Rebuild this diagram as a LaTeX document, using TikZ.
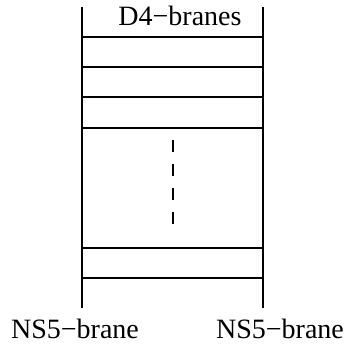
\documentclass[tikz,border=0pt]{standalone}
\usepackage{fontspec}
\setmainfont{Liberation Serif}
\begin{document}
\begin{tikzpicture}[x=1pt,y=-1pt,
  brane/.style={line width=1.8pt},
  lbl/.style={font=\fontsize{28}{31}\selectfont, inner sep=0pt, anchor=base}]
\useasboundingbox (0,0) rectangle (350,343);
\coordinate (Lt) at (82,7);
\coordinate (Lb) at (82,308);
\coordinate (Rt) at (263,7);
\coordinate (Rb) at (263,308);
\draw[brane] (Lt) -- (Lb);
\draw[brane] (Rt) -- (Rb);
\foreach \y/\n in {37/a,67/b,97/c,128/d,248/e,278/f}{
  \coordinate (l\n) at (82,\y);
  \coordinate (r\n) at (263,\y);
  \draw[brane] (l\n) -- (r\n);
}
\coordinate (dt) at (173,140);
\coordinate (db) at (173,224);
\draw[brane, dash pattern=on 12pt off 12pt] (dt) -- (db);
\node[lbl] (d4) at (180,25) {D4−branes};
\node[lbl] (ns1) at (75,338) {NS5−brane};
\node[lbl] (ns2) at (280,338) {NS5−brane};
\end{tikzpicture}
\end{document}
